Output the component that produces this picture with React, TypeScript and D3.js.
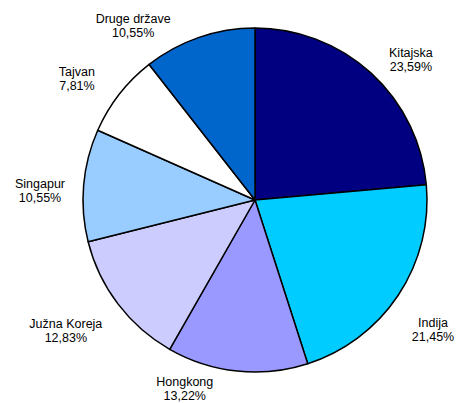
import * as d3 from "d3";
import { useEffect, useRef } from "react";

// udjeli po državama (%)
const countries = ["Kitajska", "Indija", "Hongkong", "Južna Koreja", "Singapur", "Tajvan", "Druge države"];
const shares = [23.59, 21.45, 13.22, 12.83, 10.55, 7.81, 10.55];
const shareLabels = ["23,59%", "21,45%", "13,22%", "12,83%", "10,55%", "7,81%", "10,55%"];
const colors = ["#000080", "#00CCFF", "#9999FF", "#CCCCFF", "#99CCFF", "#FFFFFF", "#0066CC"];

// pomak natpisa od sredine isječka (stupnjevi) i udaljenost od središta
const labelShift = [5.6, 2.6, 14.4, 2.5, -2.4, -3.8, -16];
const labelDist = [209.6, 220.4, 202, 230, 215.2, 215.2, 212.5];

const App = () => {
    const ref = useRef<SVGSVGElement>(null);
    const width = 458;
    const height = 403;
    const cx = 255;
    const cy = 200;
    const radius = 172;

    useEffect(() => {
        const svg = d3.select(ref.current);
        svg.selectAll("*").remove();

        const data = countries.map((c, i) => ({ name: c, value: shares[i], label: shareLabels[i], color: colors[i] }));

        const pie = d3.pie<any>().value(d => d.value).sort(null);
        const arcs = pie(data);
        const arc = d3.arc<any>().innerRadius(0).outerRadius(radius);

        const g = svg.append("g").attr("transform", `translate(${cx},${cy})`);

        g.selectAll("path")
            .data(arcs)
            .enter()
            .append("path")
            .attr("d", arc)
            .style("fill", d => d.data.color)
            .style("stroke", "#000")
            .style("stroke-width", 1.5)
            .style("stroke-linejoin", "round");

        const labels = g.selectAll(".lbl")
            .data(arcs)
            .enter()
            .append("text")
            .attr("class", "lbl")
            .style("font-family", "'Liberation Sans', Arial, sans-serif")
            .style("font-size", "12.5px")
            .style("fill", "#000")
            .attr("text-anchor", "middle")
            .attr("transform", (d, i) => {
                const a = (d.startAngle + d.endAngle) / 2 + labelShift[i] * Math.PI / 180;
                const [x, y] = d3.pointRadial(a, labelDist[i]);
                return `translate(${x},${y})`;
            });

        labels.append("tspan").attr("x", 0).attr("y", -3).text(d => d.data.name);
        labels.append("tspan").attr("x", 0).attr("y", 11).text(d => d.data.label);
    }, []);

    return <svg ref={ref} width={width} height={height} style={{ position: "absolute", left: 0, top: 0, background: "#fff" }}></svg>;
};

export default App;
